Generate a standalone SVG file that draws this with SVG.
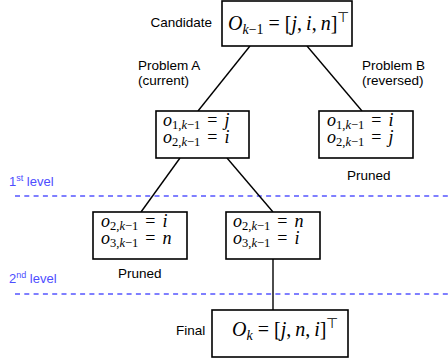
<svg xmlns="http://www.w3.org/2000/svg" width="448" height="363" viewBox="0 0 448 363">
<style>
.box{fill:#fff;stroke:#000;stroke-width:1.6}
.edge{stroke:#000;stroke-width:1.4;fill:none}
.lvl{stroke:#5656ff;stroke-width:1.4;stroke-dasharray:5 4.3;fill:none}
.lab{font-family:"Liberation Sans",Arial,sans-serif;font-size:13.5px;fill:#000}
.blue{fill:#4d4dff;font-size:13px}
.m{font-family:"Liberation Serif","Times New Roman",serif;font-size:18px;fill:#000}
.big{font-size:20px}
.i{font-style:italic}
.s{font-size:12.5px}
.bs{font-size:14px}
</style>
<rect width="448" height="363" fill="#fff"/>
<g id="levels">
<line class="lvl" x1="15" y1="196" x2="448" y2="196"/>
<line class="lvl" x1="15" y1="294" x2="448" y2="294"/>
<text class="lab blue" x="9" y="186">1<tspan font-size="9" dy="-5">st</tspan><tspan dy="5"> level</tspan></text>
<text class="lab blue" x="9" y="283">2<tspan font-size="9" dy="-5">nd</tspan><tspan dy="5"> level</tspan></text>
</g>
<g id="connectors">
<line class="edge" x1="250" y1="46" x2="198" y2="111"/>
<line class="edge" x1="307" y1="46" x2="362" y2="111"/>
<line class="edge" x1="180" y1="158" x2="141" y2="212"/>
<line class="edge" x1="227" y1="158" x2="273" y2="212"/>
<line class="edge" x1="273" y1="259" x2="273" y2="310"/>
</g>
<g id="candidate">
<rect class="box" x="222" y="1" width="130" height="45"/>
<text class="lab" x="212" y="27" text-anchor="end">Candidate</text>
<text class="m big" x="228" y="30"><tspan class="i">O</tspan><tspan class="bs i" dy="4">k</tspan><tspan class="bs">−1</tspan><tspan dy="-4" dx="5">=</tspan><tspan dx="5">[</tspan><tspan class="i">j</tspan>,<tspan class="i" dx="4">i</tspan>,<tspan class="i" dx="4">n</tspan>]<tspan class="bs" dy="-8">⊤</tspan></text>
</g>
<g id="problemA">
<rect class="box" x="156" y="111" width="93" height="47"/>
<text class="lab" x="138" y="70">Problem A<tspan x="138" dy="15">(current)</tspan></text>
<text class="m" x="163" y="126"><tspan class="i">o</tspan><tspan class="s" dy="2.5">1,<tspan class="i">k</tspan>−1</tspan><tspan dy="-2.5" dx="7">=</tspan><tspan class="i" dx="7">j</tspan><tspan x="163" dy="17" class="i">o</tspan><tspan class="s" dy="2.5">2,<tspan class="i">k</tspan>−1</tspan><tspan dy="-2.5" dx="7">=</tspan><tspan class="i" dx="7">i</tspan></text>
</g>
<g id="problemB">
<rect class="box" x="319" y="111" width="94" height="47"/>
<text class="lab" x="362" y="70">Problem B<tspan x="362" dy="15">(reversed)</tspan></text>
<text class="m" x="327" y="126"><tspan class="i">o</tspan><tspan class="s" dy="2.5">1,<tspan class="i">k</tspan>−1</tspan><tspan dy="-2.5" dx="7">=</tspan><tspan class="i" dx="7">i</tspan><tspan x="327" dy="17" class="i">o</tspan><tspan class="s" dy="2.5">2,<tspan class="i">k</tspan>−1</tspan><tspan dy="-2.5" dx="7">=</tspan><tspan class="i" dx="7">j</tspan></text>
<text class="lab" x="347" y="180">Pruned</text>
</g>
<g id="leftChild">
<rect class="box" x="93" y="212" width="94" height="47"/>
<text class="m" x="101" y="227"><tspan class="i">o</tspan><tspan class="s" dy="2.5">2,<tspan class="i">k</tspan>−1</tspan><tspan dy="-2.5" dx="7">=</tspan><tspan class="i" dx="7">i</tspan><tspan x="101" dy="17" class="i">o</tspan><tspan class="s" dy="2.5">3,<tspan class="i">k</tspan>−1</tspan><tspan dy="-2.5" dx="7">=</tspan><tspan class="i" dx="7">n</tspan></text>
<text class="lab" x="118" y="278">Pruned</text>
</g>
<g id="rightChild">
<rect class="box" x="226" y="212" width="94" height="47"/>
<text class="m" x="233" y="227"><tspan class="i">o</tspan><tspan class="s" dy="2.5">2,<tspan class="i">k</tspan>−1</tspan><tspan dy="-2.5" dx="7">=</tspan><tspan class="i" dx="7">n</tspan><tspan x="233" dy="17" class="i">o</tspan><tspan class="s" dy="2.5">3,<tspan class="i">k</tspan>−1</tspan><tspan dy="-2.5" dx="7">=</tspan><tspan class="i" dx="7">i</tspan></text>
</g>
<g id="final">
<rect class="box" x="212" y="310" width="136" height="47"/>
<text class="lab" x="176" y="335">Final</text>
<text class="m big" x="232" y="336"><tspan class="i">O</tspan><tspan class="bs i" dy="4">k</tspan><tspan dy="-4" dx="5">=</tspan><tspan dx="5">[</tspan><tspan class="i">j</tspan>,<tspan class="i" dx="4">n</tspan>,<tspan class="i" dx="4">i</tspan>]<tspan class="bs" dy="-8">⊤</tspan></text>
</g>
</svg>
